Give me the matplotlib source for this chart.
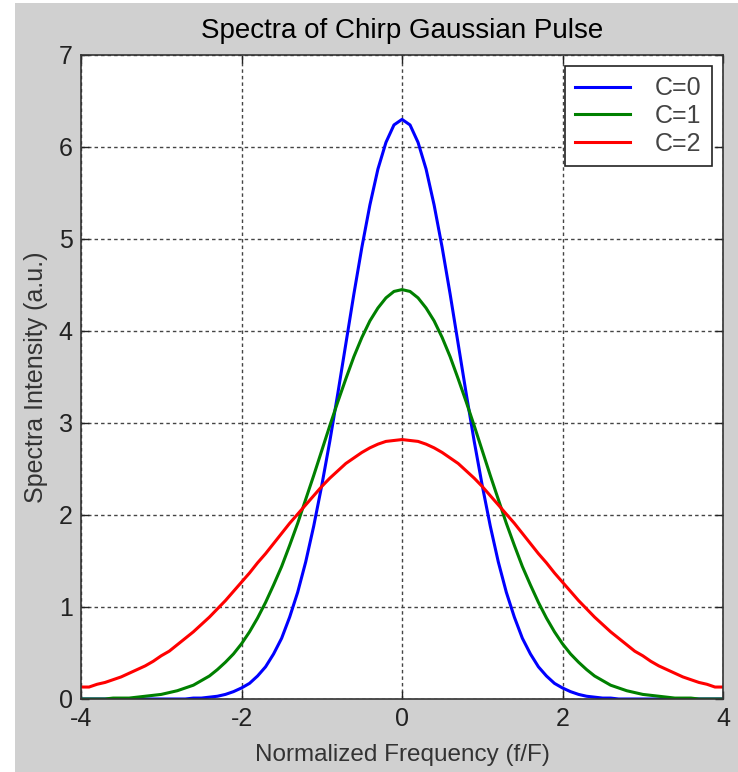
import matplotlib
matplotlib.use("Agg")
import matplotlib.pyplot as plt
from matplotlib.patches import Rectangle

plt.rcParams['font.family'] = ['Liberation Sans', 'DejaVu Sans']

# Normalized frequency samples (f/F)
freq = [-4.0, -3.9, -3.8, -3.7, -3.6, -3.5, -3.4, -3.3, -3.2, -3.1,
        -3.0, -2.9, -2.8, -2.7, -2.6, -2.5, -2.4, -2.3, -2.2, -2.1,
        -2.0, -1.9, -1.8, -1.7, -1.6, -1.5, -1.4, -1.3, -1.2, -1.1,
        -1.0, -0.9, -0.8, -0.7, -0.6, -0.5, -0.4, -0.3, -0.2, -0.1,
        0.0,
        0.1, 0.2, 0.3, 0.4, 0.5, 0.6, 0.7, 0.8, 0.9, 1.0,
        1.1, 1.2, 1.3, 1.4, 1.5, 1.6, 1.7, 1.8, 1.9, 2.0,
        2.1, 2.2, 2.3, 2.4, 2.5, 2.6, 2.7, 2.8, 2.9, 3.0,
        3.1, 3.2, 3.3, 3.4, 3.5, 3.6, 3.7, 3.8, 3.9, 4.0]

# Spectral intensity (a.u.) for each chirp parameter
spec_c0 = [0.00, 0.00, 0.00, 0.00, 0.00, 0.00, 0.00, 0.00, 0.00, 0.00,
           0.00, 0.00, 0.00, 0.00, 0.01, 0.01, 0.02, 0.03, 0.05, 0.08,
           0.12, 0.17, 0.25, 0.35, 0.49, 0.66, 0.89, 1.16, 1.49, 1.88,
           2.32, 2.80, 3.32, 3.86, 4.40, 4.91, 5.37, 5.76, 6.05, 6.24,
           6.30,
           6.24, 6.05, 5.76, 5.37, 4.91, 4.40, 3.86, 3.32, 2.80, 2.32,
           1.88, 1.49, 1.16, 0.89, 0.66, 0.49, 0.35, 0.25, 0.17, 0.12,
           0.08, 0.05, 0.03, 0.02, 0.01, 0.01, 0.00, 0.00, 0.00, 0.00,
           0.00, 0.00, 0.00, 0.00, 0.00, 0.00, 0.00, 0.00, 0.00, 0.00]
spec_c1 = [0.00, 0.00, 0.00, 0.00, 0.01, 0.01, 0.01, 0.02, 0.03, 0.04,
           0.05, 0.07, 0.09, 0.12, 0.15, 0.20, 0.25, 0.32, 0.40, 0.49,
           0.60, 0.73, 0.88, 1.05, 1.24, 1.44, 1.67, 1.91, 2.17, 2.43,
           2.70, 2.97, 3.23, 3.48, 3.72, 3.93, 4.11, 4.25, 4.36, 4.43,
           4.45,
           4.43, 4.36, 4.25, 4.11, 3.93, 3.72, 3.48, 3.23, 2.97, 2.70,
           2.43, 2.17, 1.91, 1.67, 1.44, 1.24, 1.05, 0.88, 0.73, 0.60,
           0.49, 0.40, 0.32, 0.25, 0.20, 0.15, 0.12, 0.09, 0.07, 0.05,
           0.04, 0.03, 0.02, 0.01, 0.01, 0.01, 0.00, 0.00, 0.00, 0.00]
spec_c2 = [0.13, 0.13, 0.16, 0.18, 0.21, 0.24, 0.28, 0.32, 0.36, 0.41,
           0.47, 0.52, 0.59, 0.66, 0.73, 0.81, 0.89, 0.98, 1.07, 1.17,
           1.27, 1.37, 1.48, 1.58, 1.69, 1.80, 1.91, 2.01, 2.11, 2.21,
           2.31, 2.40, 2.48, 2.56, 2.62, 2.68, 2.73, 2.77, 2.80, 2.81,
           2.82,
           2.81, 2.80, 2.77, 2.73, 2.68, 2.62, 2.56, 2.48, 2.40, 2.31,
           2.21, 2.11, 2.01, 1.91, 1.80, 1.69, 1.58, 1.48, 1.37, 1.27,
           1.17, 1.07, 0.98, 0.89, 0.81, 0.73, 0.66, 0.59, 0.52, 0.47,
           0.41, 0.36, 0.32, 0.28, 0.24, 0.21, 0.18, 0.16, 0.13, 0.13]

labels = ['C=0', 'C=1', 'C=2']
colors = ['#0000ff', '#008000', '#ff0000']
xticks = [-4, -2, 0, 2, 4]
yticks = [0, 1, 2, 3, 4, 5, 6, 7]

fig = plt.figure(figsize=(7.38, 7.72), dpi=100, facecolor='white')
fig.patches.append(Rectangle((15 / 738, 0), 1 - 15 / 738, 1 - 3 / 772,
                             transform=fig.transFigure, facecolor='#d0d0d0',
                             edgecolor='none', zorder=-10))

ax = fig.add_axes([81 / 738, 73 / 772, 642 / 738, 644 / 772])
ax.set_facecolor('white')

for y, lab, col in zip([spec_c0, spec_c1, spec_c2], labels, colors):
    ax.plot(freq, y, color=col, lw=2.2, label=lab)

ax.set_xlim(-4, 4)
ax.set_ylim(0, 7)
ax.set_xticks(xticks)
ax.set_yticks(yticks)
ax.set_xticklabels([str(t) for t in xticks])
ax.set_yticklabels([str(t) for t in yticks])

ax.grid(True, color='#444444', linestyle=(0, (2.5, 2.2)), linewidth=1.0)
ax.set_axisbelow(True)

ax.tick_params(direction='in', length=6, width=1, colors='#222222',
               labelsize=18, top=True, right=True, pad=6)
for sp in ax.spines.values():
    sp.set_color('#333333')
    sp.set_linewidth(1.2)

ax.set_title('Spectra of Chirp Gaussian Pulse', fontsize=20, color='#000000', pad=12)
ax.set_xlabel('Normalized Frequency (f/F)', fontsize=17.5, color='#333333', labelpad=9)
ax.set_ylabel('Spectra Intensity (a.u.)', fontsize=18, color='#333333', labelpad=8)

leg = ax.legend(loc='upper right', fontsize=18, frameon=True, fancybox=False,
                edgecolor='#222222', framealpha=1, handlelength=2.2,
                handletextpad=1.0, labelspacing=0.15, borderaxespad=0.45,
                borderpad=0.4)
leg.get_frame().set_linewidth(1.2)
for t in leg.get_texts():
    t.set_color('#444444')

fig.savefig('out.png', dpi=100, facecolor=fig.get_facecolor())
